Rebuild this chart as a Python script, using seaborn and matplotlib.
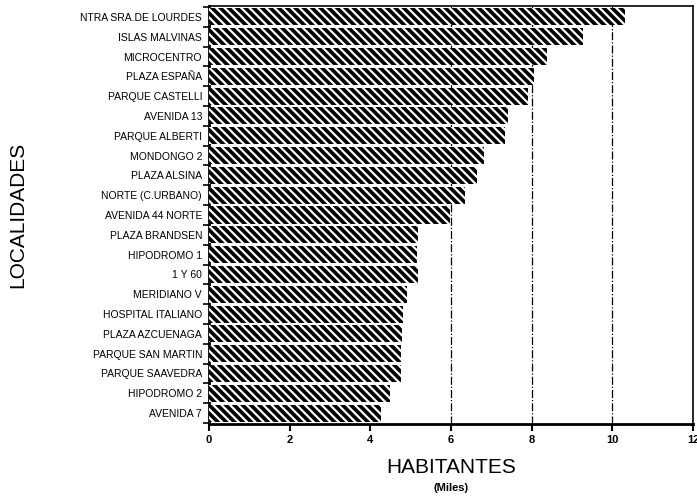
import matplotlib
matplotlib.use("Agg")
import matplotlib.pyplot as plt
import numpy as np
import pandas as pd
import seaborn as sns

# datos (miles de habitantes)
localidades = [
    "NTRA SRA.DE LOURDES", "ISLAS MALVINAS", "MICROCENTRO", "PLAZA ESPAÑA",
    "PARQUE CASTELLI", "AVENIDA 13", "PARQUE ALBERTI", "MONDONGO 2",
    "PLAZA ALSINA", "NORTE (C.URBANO)", "AVENIDA 44 NORTE", "PLAZA BRANDSEN",
    "HIPODROMO 1", "1 Y 60", "MERIDIANO V", "HOSPITAL ITALIANO",
    "PLAZA AZCUENAGA", "PARQUE SAN MARTIN", "PARQUE SAAVEDRA", "HIPODROMO 2",
    "AVENIDA 7",
]
habitantes = [
    10.32, 9.26, 8.39, 8.06, 7.92, 7.42, 7.34, 6.82, 6.65, 6.35, 5.98,
    5.19, 5.16, 5.17, 4.91, 4.82, 4.79, 4.76, 4.75, 4.49, 4.27,
]
x_ticks = [0, 2, 4, 6, 8, 10, 12]
lineas_guia = [6, 8, 10]

df = pd.DataFrame({"localidad": localidades, "habitantes": habitantes})

sns.set_theme(style="white")
plt.rcParams["font.family"] = ["Liberation Sans", "DejaVu Sans"]
plt.rcParams["hatch.linewidth"] = 1.6
for clave in ["text.color", "axes.labelcolor", "xtick.color", "ytick.color"]:
    plt.rcParams[clave] = "black"

fig = plt.figure(figsize=(6.97, 4.96), dpi=100)
ax = fig.add_axes([0.2999, 0.1452, 0.6944, 0.8427])

# lineas guia punto-raya detras de las barras
for xv in lineas_guia:
    ax.axvline(xv, color="black", linestyle="-.", linewidth=0.9, zorder=0)

sns.barplot(data=df, x="habitantes", y="localidad", orient="h",
            color="black", width=0.86, ax=ax)

# barras negras con rayado blanco
for p in ax.patches:
    p.set_facecolor("black")
    p.set_edgecolor("white")
    p.set_hatch("\\\\\\\\")
    p.set_linewidth(0)
    p.set_zorder(3)

ax.set_xlim(0, 12)
ax.set_ylim(len(localidades) - 0.45, -0.55)
ax.set_xticks(x_ticks)
ax.set_xticklabels([str(t) for t in x_ticks], fontsize=8, fontweight="bold")
ax.tick_params(axis="y", labelsize=7.5, length=0, pad=5)
ax.set_yticks(np.arange(len(localidades) + 1) - 0.5, minor=True)
ax.tick_params(axis="y", which="minor", length=4, width=1.2, left=True)
ax.tick_params(axis="x", length=5, width=1.5, bottom=True, pad=3)
ax.grid(False)

for s in ax.spines.values():
    s.set_color("black")
    s.set_linewidth(1.2)
ax.spines["bottom"].set_linewidth(2)
ax.spines["left"].set_linewidth(2)

ax.set_ylabel("LOCALIDADES", fontsize=15)
ax.yaxis.set_label_coords(-0.375, 0.5)
ax.set_xlabel("HABITANTES", fontsize=15, labelpad=9)
fig.text(0.647, 0.016, "(Miles)", fontsize=8, fontweight="bold",
         ha="center", va="center")

fig.savefig("out.png", dpi=100)
